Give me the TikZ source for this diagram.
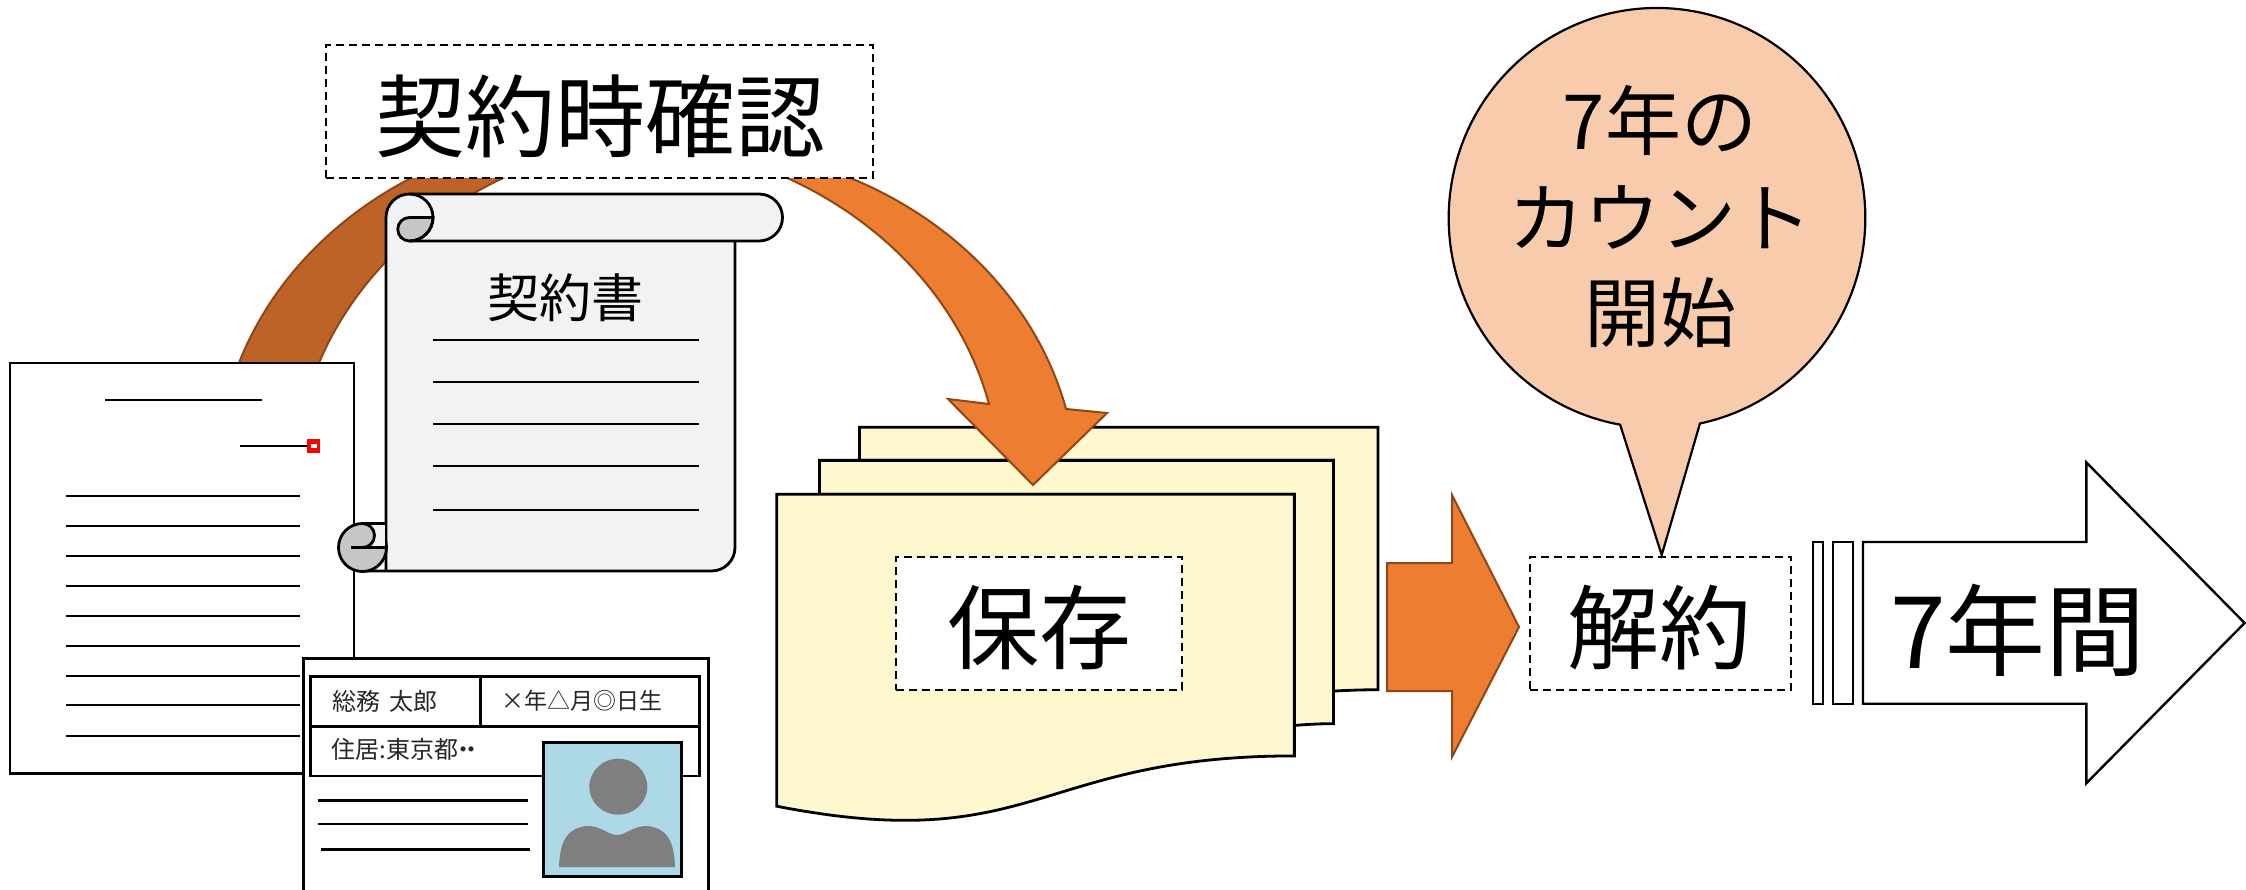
\documentclass[tikz,border=0pt]{standalone}
\usepackage{fontspec}
\setmainfont{Noto Sans CJK JP}
\newcommand\setfs[1]{\fontsize{#1}{#1}\selectfont}
\definecolor{accent}{HTML}{ED7D31}
\definecolor{accentdark}{HTML}{BE6328}
\definecolor{accentline}{HTML}{8F4716}
\definecolor{sheet}{HTML}{FFF7CE}
\definecolor{paper}{HTML}{F2F2F2}
\definecolor{curl}{HTML}{C6C6C6}
\definecolor{bubble}{HTML}{F8CBAD}
\definecolor{photo}{HTML}{ADD8E6}
\definecolor{silhouette}{HTML}{7F7F7F}
\begin{document}
\begin{tikzpicture}[x=1pt,y=-1pt,line join=miter,
  heavy/.style={draw=black,line width=2.8pt},
  rule/.style={draw=black,line width=2.2pt},
  dashbox/.style={draw=black,fill=white,line width=2pt,dash pattern=on 8pt off 5pt,inner sep=0pt},
  txt/.style={inner sep=0pt,text=black},
  cardtxt/.style={inner sep=0pt,text=black!85},
  flow/.style={fill=accent,draw=accentline,line width=2pt},
]
\useasboundingbox (0,0) rectangle (2246,890);
\clip (0,0) rectangle (2246,890);

% ---------- stacked documents (multi-document sheets) ----------
\begin{scope}[shift={(776.8,427.3)},x=0.02783pt,y=-0.01823pt]
  \filldraw[fill=sheet,heavy] (2972,1815) -- (2972,0) -- (21600,0) -- (21600,14392)
    .. controls (20800,14392) and (20000,14467) .. (20000,14467) -- (20000,1815) -- cycle;
  \filldraw[fill=sheet,heavy] (1532,3675) -- (1532,1815) -- (20000,1815) -- (20000,16252)
    .. controls (19298,16252) and (18595,16352) .. (18595,16352) -- (18595,3675) -- cycle;
  \filldraw[fill=sheet,heavy] (0,3675) -- (18595,3675) -- (18595,18022)
    .. controls (9298,18022) and (9298,23542) .. (0,20782) -- cycle;
\end{scope}

% ---------- curved arrow: rising (shaded) part ----------
\path[fill=accentdark,draw=accentline,line width=2pt]
  (217.6,475.3) arc[start angle=180,end angle=265,x radius=393,y radius=345]
  -- (632.9,141.1) arc[start angle=262,end angle=180,x radius=393,y radius=345] -- cycle;
% ---------- curved arrow: descending part with head ----------
\path[flow] (1033,485) -- (948,399) -- (989,404)
  arc[start angle=346.5,end angle=275,x radius=393,y radius=345]
  -- (718.5,147) arc[start angle=275,end angle=346.3,x radius=393,y radius=345]
  -- (1107,413) -- cycle;

% ---------- printed document ----------
\filldraw[fill=white,heavy] (10,363) rectangle (354,773.5);
\draw[rule] (105,400) -- (262,400);
\draw[rule] (240,445.7) -- (309,445.7);
\fill[red] (307,439.3) rectangle (320.3,452.7);
\fill[white] (310.6,444.3) rectangle (316.9,447.7);
\foreach \yy in {496,526,556,586,616,646,676,705,736}
  \draw[rule] (66,\yy) -- (300,\yy);

% ---------- contract scroll ----------
\fill[paper] (386,571) -- (386,217.5) arc[start angle=180,end angle=270,radius=23.5]
  -- (759,194) arc[start angle=270,end angle=450,radius=23.5] -- (735,241) -- (735,547.5)
  arc[start angle=0,end angle=90,radius=23.5] -- cycle;
\draw[heavy] (386,571) -- (386,217.5) arc[start angle=180,end angle=270,radius=23.5]
  -- (759,194) arc[start angle=270,end angle=450,radius=23.5] -- (409.5,241);
\draw[heavy] (735,241) -- (735,547.5) arc[start angle=0,end angle=90,radius=23.5] -- (362.5,571);
% top curl
\filldraw[fill=curl,heavy] (409.5,217.5) -- (433,217.5) arc[start angle=0,end angle=90,radius=23.5]
  arc[start angle=90,end angle=270,radius=11.75] -- cycle;
\draw[heavy] (409.5,194) arc[start angle=270,end angle=450,radius=23.5];
% bottom curl
\filldraw[fill=curl,heavy] (362.5,547.5) circle[radius=24];
\fill[paper] (362.5,523.5) -- (386,523.5) -- (386,547.5) -- (362.5,547.5)
  arc[start angle=90,end angle=-90,radius=12] -- cycle;
\draw[heavy] (362.5,523.5) -- (386,523.5);
\draw[heavy] (362.5,547.5) arc[start angle=90,end angle=-90,radius=12];
\draw[heavy] (351,547.5) -- (386,547.5);
\draw[heavy] (386,523.5) -- (386,571);
% text and rules on the scroll
\node[txt,font=\setfs{52}] (scrolltitle) at (565,298) {契約書};
\foreach \yy in {340,381.7,423.7,465.7,510}
  \draw[rule] (433.3,\yy) -- (699,\yy);

% ---------- identity card ----------
\filldraw[fill=white,line width=3.5pt] (303.3,658.3) rectangle (708.3,905);
\draw[rule,line width=2.6pt] (310.7,676.7) rectangle (699.3,776);
\draw[rule,line width=2.6pt] (310.7,726.7) -- (699.3,726.7);
\draw[rule,line width=2.6pt] (480.7,676.7) -- (480.7,726.7);
\draw[rule,line width=2.8pt] (318.3,800.7) -- (528.3,800.7);
\draw[rule,line width=2.8pt] (318.3,824) -- (528.3,824);
\draw[rule,line width=2.8pt] (320.7,849.3) -- (530,849.3);
\filldraw[fill=photo,line width=3pt] (543.3,742.7) rectangle (681.7,876);
\fill[silhouette] (618.3,786.7) ellipse[x radius=29,y radius=28];
\fill[silhouette] (559,867) .. controls (560,842) and (566,829) .. (586,826)
  .. controls (600,825) and (608,835) .. (617,835)
  .. controls (626,835) and (634,825) .. (648,826)
  .. controls (668,829) and (674,842) .. (675,867) -- cycle;
\node[cardtxt,font=\setfs{24}] (cardname) at (385,701) {総務\hspace{0.35em}太郎};
\node[cardtxt,font=\setfs{23}] (cardbirth) at (582,701) {×年△月◎日生};
\node[cardtxt,font=\setfs{24},anchor=west] (cardaddr) at (331.7,749)
  {住居:東京都\hspace{-0.3em}・\hspace{-0.65em}・};

% ---------- labels in dashed frames ----------
\node[dashbox,minimum width=547pt,minimum height=133pt] (checkbox) at (599.5,111.5) {};
\node[txt,font=\setfs{90}] (checklabel) at (600,116) {契約時確認};
\node[dashbox,minimum width=286pt,minimum height=133pt] (storebox) at (1039,623.5) {};
\node[txt,font=\setfs{92}] (storelabel) at (1039,628) {保存};

% ---------- block arrow to termination ----------
\path[flow] (1387,563) -- (1452,563) -- (1452,495) -- (1519,627) -- (1452,757)
  -- (1452,691) -- (1387,691) -- cycle;

% ---------- callout ----------
\filldraw[fill=bubble,draw=black,line width=2.2pt]
  (1657,218) ++(100.2:208.3 and 210)
  arc[start angle=100.2,end angle=438.1,x radius=208.3,y radius=210]
  -- (1661.7,555) -- cycle;
\node[txt,font=\setfs{76}] (calloutA) at (1660,120) {7年の};
\node[txt,font=\setfs{76}] (calloutB) at (1660,217) {カウント};
\node[txt,font=\setfs{76}] (calloutC) at (1660,313) {開始};

\node[dashbox,fill=none,minimum width=261.5pt,minimum height=133pt] (endbox) at (1660.25,623) {};
\node[txt,font=\setfs{92}] (endlabel) at (1659,628) {解約};

% ---------- striped arrow: seven years ----------
\filldraw[fill=white,draw=black,line width=2.4pt] (1813,542) rectangle (1823,703.7);
\filldraw[fill=white,draw=black,line width=2.4pt] (1833,542) rectangle (1853,703.7);
\filldraw[fill=white,draw=black,line width=2.4pt] (1863,542) -- (2086.4,542) -- (2086.4,462.5)
  -- (2244.6,623) -- (2086.4,783.2) -- (2086.4,703.7) -- (1863,703.7) -- cycle;
\node[txt,font=\setfs{100}] (yearslabel) at (2018,630) {7年間};
\end{tikzpicture}
\end{document}
